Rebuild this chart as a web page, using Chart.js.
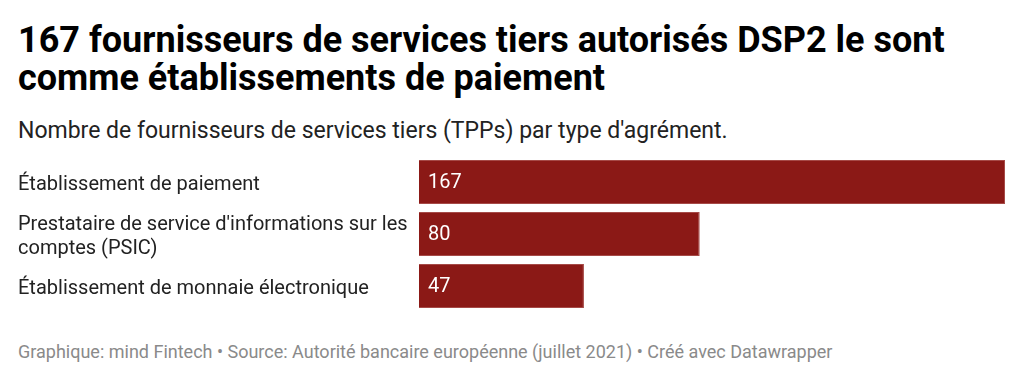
<!DOCTYPE html>
<html><head><meta charset="utf-8">
<script src="https://cdn.jsdelivr.net/npm/chart.js@4/dist/chart.umd.min.js"></script>
<style>
html,body{margin:0;padding:0;background:#fff;width:1024px;height:380px;overflow:hidden;font-family:Roboto,sans-serif;}
#title{position:absolute;left:18px;top:21px;font-size:36px;font-weight:700;line-height:38px;color:#000;width:1006px;white-space:nowrap;}
#sub{position:absolute;left:18px;top:117px;font-size:23px;line-height:28px;color:#222;white-space:nowrap;}
#foot{position:absolute;left:18px;top:341px;font-size:18px;line-height:22px;color:#8a8a8a;white-space:nowrap;}
#wrap{position:absolute;left:18px;top:156px;width:987px;height:156px;}
</style></head><body>
<div id="title">167 fournisseurs de services tiers autorisés DSP2 le sont<br>comme établissements de paiement</div>
<div id="sub">Nombre de fournisseurs de services tiers (TPPs) par type d'agrément.</div>
<div id="wrap"><canvas id="c"></canvas></div>
<div id="foot">Graphique: mind Fintech • Source: Autorité bancaire européenne (juillet 2021) • Créé avec Datawrapper</div>
<script>
const categories = [
  ["Établissement de paiement"],
  ["Prestataire de service d'informations sur les", "comptes (PSIC)"],
  ["Établissement de monnaie électronique"]
];
const values = [167, 80, 47];

const valueLabels = {
  id: 'valueLabels',
  afterDatasetsDraw(chart) {
    const ctx = chart.ctx;
    const meta = chart.getDatasetMeta(0);
    ctx.save();
    ctx.fillStyle = '#ffffff';
    ctx.font = '20px Roboto';
    ctx.textBaseline = 'middle';
    ctx.textAlign = 'left';
    meta.data.forEach((bar, i) => {
      ctx.fillText(String(values[i]), bar.base + 9, bar.y + 1);
    });
    ctx.restore();
  }
};

new Chart(document.getElementById('c'), {
  type: 'bar',
  data: {
    labels: categories,
    datasets: [{
      data: values,
      backgroundColor: '#8b1916',
      borderColor: '#a64a47',
      borderWidth: 1,
      barPercentage: 0.846,
      categoryPercentage: 1
    }]
  },
  options: {
    indexAxis: 'y',
    responsive: true,
    maintainAspectRatio: false,
    animation: false,
    layout: { padding: 0 },
    plugins: { legend: { display: false }, tooltip: { enabled: false } },
    scales: {
      x: { display: false, min: 0, max: 167 },
      y: {
        grid: { display: false },
        border: { display: false },
        ticks: {
          crossAlign: 'far',
          color: '#222',
          font: { family: 'Roboto', size: 20, lineHeight: 1.17 },
          padding: 0,
          labelOffset: 3
        },
        afterFit(scale) {
          scale.width = 401;
          scale.paddingTop = 0;
          scale.paddingBottom = 0;
        }
      }
    }
  },
  plugins: [valueLabels]
});
</script>
</body></html>
